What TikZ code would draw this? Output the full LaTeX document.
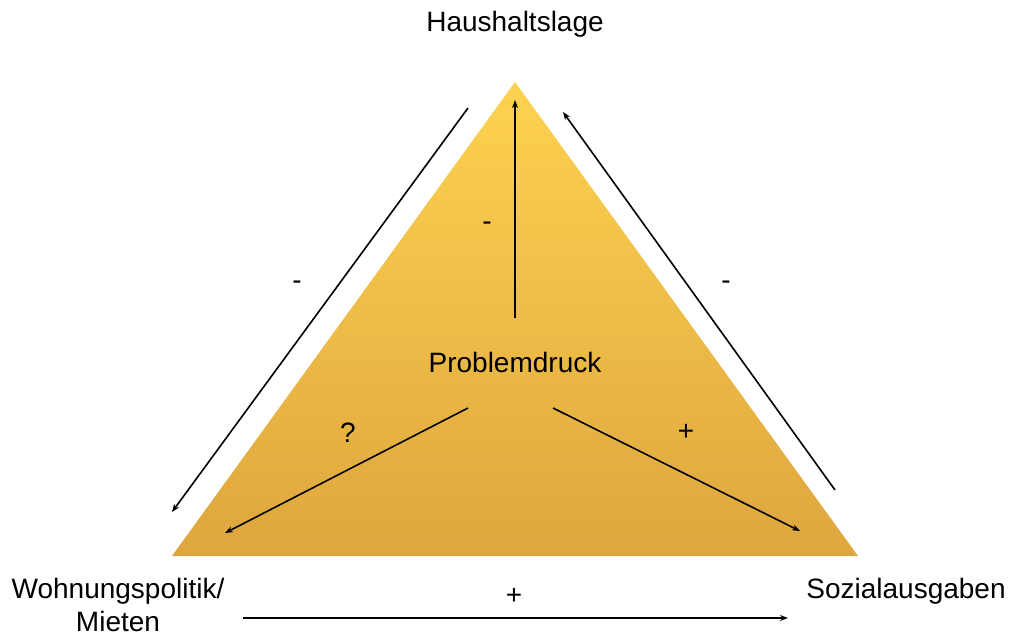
\documentclass[tikz,border=0pt]{standalone}
\usepackage{fontspec}
\setmainfont{Liberation Sans}
\usepackage{tikz}
\usetikzlibrary{calc,positioning,arrows.meta}
\definecolor{triatop}{HTML}{FDD250}
\definecolor{triabot}{HTML}{DEA63E}

\begin{document}
\begin{tikzpicture}[
    x=0.75pt, y=-0.75pt,
    font=\fontsize{21}{25}\selectfont,
    lbl/.style={align=center, inner sep=0pt},
    sign/.style={inner sep=0pt},
    arr/.style={-{Stealth[length=6pt,width=4.5pt]}, line width=1.2pt, color=black}
  ]
    \useasboundingbox (0,0) rectangle (1012,636);

    % triangle
    \coordinate (apex) at (515,82);
    \coordinate (cl) at (172,556);
    \coordinate (cr) at (858,556);
    \shade[top color=triatop, bottom color=triabot] (apex) -- (cr) -- (cl) -- cycle;

    % corners
    \node[lbl] (haus) at (515,24) {Haushaltslage};
    \node[lbl] (wohn) at (118,605) {Wohnungspolitik/\\Mieten};
    \node[lbl] (sozi) at (906,591) {Sozialausgaben};
    \node[lbl] (prob) at (515,362) {Problemdruck};

    % arrow ends
    \coordinate (v0) at (515,318);
    \coordinate (v1) at (515,100);
    \coordinate (l0) at (468,108);
    \coordinate (l1) at (172,512);
    \coordinate (r0) at (835,490);
    \coordinate (r1) at (563,112);
    \coordinate (pl0) at (468,408);
    \coordinate (pl1) at (225,533);
    \coordinate (pr0) at (553,408);
    \coordinate (pr1) at (800,531);
    \coordinate (b0) at (243,618);
    \coordinate (b1) at (788,618);

    \draw[arr] (v0) -- (v1);
    \draw[arr] (l0) -- (l1);
    \draw[arr] (r0) -- (r1);
    \draw[arr] (pl0) -- (pl1);
    \draw[arr] (pr0) -- (pr1);
    \draw[arr] (b0) -- (b1);

    % signs
    \node[sign] (sv) at (487,226) {-};
    \node[sign] (sl) at (297,285) {-};
    \node[sign] (sr) at (726,285) {-};
    \node[sign] (sq) at (348,433) {?};
    \node[sign] (sp) at (686,432) {+};
    \node[sign] (sb) at (514,596) {+};
  \end{tikzpicture}
\end{document}
